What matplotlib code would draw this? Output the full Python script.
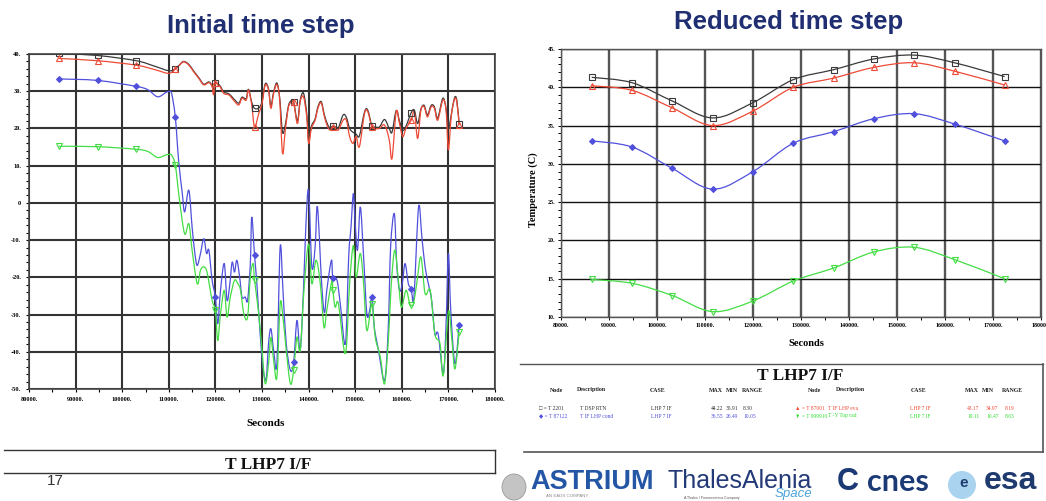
import numpy as np
import matplotlib
matplotlib.use("Agg")
import matplotlib.pyplot as plt
from matplotlib.path import Path
from matplotlib.patches import PathPatch, Ellipse
from matplotlib.lines import Line2D
from matplotlib.ticker import MultipleLocator, FuncFormatter

# ---------------- data: left chart (initial time step) ----------------
LEFT_RB_T = [86360, 94700, 103000, 107000, 110000, 111400, 112300, 113200, 114300, 115350,
             116400, 117500, 118600, 119300, 119600, 120000, 120900, 121800, 122900, 123900,
             125000, 125700, 126600, 127100, 127800, 128400, 129300, 130000, 130700, 131400,
             131900, 132500, 133200, 133800, 134400, 135000, 135700, 136400, 136800, 137600,
             138200, 138900, 139600, 140000, 140600, 141400, 142000, 142700, 143400, 144100,
             144600, 145200, 145800, 146400, 147400, 148100, 148800, 149500, 150200, 150900,
             152000, 152700, 153600, 154300, 155200, 156300, 157300, 157900, 158800, 159500,
             160200, 160900, 162000, 162700, 163400, 164100, 164800, 165500, 166300, 167000,
             167700, 168800, 169500, 170000, 170600, 171300, 171800, 172300]
LEFT_RED = [38.8, 38.2, 37.0, 35.8, 34.8, 36.0, 37.0, 37.9, 37.0, 35.2,
            33.5, 31.7, 32.3, 31.2, 29.0, 32.1, 31.4, 29.4, 29.0, 27.6,
            26.3, 28.1, 27.6, 30.3, 26.3, 20.4, 24.0, 26.7, 31.7, 30.3,
            25.4, 29.4, 31.8, 27.6, 13.3, 19.6, 25.8, 27.2, 27.0, 21.3,
            27.2, 28.5, 23.1, 16.0, 20.0, 22.2, 25.4, 26.9, 23.1, 20.4,
            19.6, 20.3, 20.0, 19.6, 22.2, 22.2, 17.8, 16.0, 17.8, 15.1,
            24.0, 24.5, 20.3, 20.0, 20.0, 20.9, 17.0, 11.9, 24.5, 21.3,
            17.8, 20.0, 22.2, 24.5, 17.3, 24.9, 25.8, 23.1, 25.8, 25.4,
            22.2, 27.6, 24.9, 14.2, 23.1, 27.8, 27.2, 20.9]
LEFT_BLACK = [40.2, 39.6, 38.2, 36.7, 35.5, 36.0, 37.1, 38.0, 37.2, 35.4,
              33.7, 31.9, 32.5, 31.4, 30.0, 32.2, 31.6, 29.8, 29.3, 28.0,
              26.8, 28.4, 28.0, 30.5, 27.0, 25.4, 25.5, 27.2, 32.0, 30.6,
              26.0, 29.8, 32.2, 28.2, 19.0, 21.0, 26.2, 27.6, 27.2, 22.0,
              27.6, 29.5, 24.0, 17.0, 20.6, 22.6, 25.8, 27.2, 23.6, 21.0,
              20.2, 20.6, 20.4, 20.2, 23.6, 23.0, 20.0, 19.0, 18.5, 18.0,
              24.4, 24.9, 20.6, 20.4, 20.4, 22.4, 20.0, 19.0, 24.8, 22.0,
              19.5, 20.6, 24.2, 24.9, 21.3, 25.2, 26.2, 23.6, 26.2, 25.8,
              22.8, 28.1, 25.3, 20.0, 23.6, 28.2, 27.6, 21.3]

LEFT_BLUE_T = [86360, 94700, 103000, 105500, 107600, 109400, 110000, 110600, 111400, 112100,
               112900, 113400, 114300, 115000, 115600, 116100, 116800, 117500, 118100, 118600,
               119300, 120000, 120500, 121100, 121900, 122500, 123100, 123600, 124100, 124600,
               125200, 125700, 126400, 126900, 127500, 127800, 128400, 128900, 129600, 130300,
               130900, 131400, 131900, 132500, 133200, 133900, 134500, 135200, 136100, 136800,
               137500, 138200, 138900, 139400, 140000, 140700, 141400, 141900, 142800, 143400,
               143900, 144900, 145200, 146100, 146800, 147900, 148600, 149100, 149600, 150000,
               150500, 151100, 151800, 152500, 153100, 153600, 154100, 155000, 156300, 157100,
               157600, 158400, 158900, 159500, 160100, 160700, 161400, 162000, 162600, 163600,
               164300, 165000, 165700, 166400, 167100, 167800, 168900, 169500, 170000, 170500,
               171400, 172300]
LEFT_BLUE = [33.3, 32.9, 31.3, 30.4, 28.5, 29.7, 29.9, 29.4, 23.0, 11.5,
             2.5, -2.4, 3.4, -6.5, -13.6, -16.8, -13.6, -9.6, -13.6, -12.7,
             -20.8, -25.3, -32.5, -23.5, -16.3, -26.2, -21.7, -15.9, -18.6, -15.4,
             -19.9, -25.3, -25.3, -26.2, -16.3, -3.8, -14.1, -21.7, -35.2, -45.0,
             -47.3, -37.8, -33.8, -39.6, -43.2, -11.8, -23.5, -37.8, -45.0, -42.8,
             -31.6, -39.6, -23.5, -6.5, 3.4, -17.2, -11.8, -1.1, -21.7, -29.5,
             -23.5, -15.4, -20.3, -20.8, -27.1, -37.8, -14.5, -6.5, 2.5, -5.6,
             -12.7, -1.1, -14.5, -29.8, -28.9, -25.3, -33.4, -39.6, -47.7, -33.4,
             -11.8, -2.9, -16.3, -23.5, -21.7, -16.3, -21.7, -23.0, -25.3, -1.1,
             -9.1, -17.2, -21.7, -26.2, -35.2, -35.2, -45.9, -32.5, -13.6, -28.9,
             -43.2, -32.9]

LEFT_GREEN_T = [86360, 94700, 103000, 105500, 107600, 109400, 110000, 110600, 111400, 112300,
                113400, 114300, 115000, 116100, 116800, 117500, 118200, 119300, 120000, 120500,
                121100, 121900, 122500, 123200, 124100, 124800, 125400, 126100, 126900, 127500,
                128100, 128400, 129300, 130000, 130700, 131400, 131900, 132500, 133200, 133900,
                134500, 135200, 136100, 136800, 137500, 138200, 139000, 140000, 140700, 141600,
                142500, 143300, 143900, 145000, 145200, 145700, 146400, 147900, 148800, 149600,
                150200, 151100, 151800, 152500, 153600, 154300, 155400, 156300, 157100, 157800,
                158500, 159200, 159900, 160900, 161700, 162000, 162500, 163200, 164100, 165000,
                166100, 167100, 168200, 168900, 170000, 170700, 171400, 172300]
LEFT_GREEN = [15.2, 15.1, 14.4, 13.8, 12.2, 12.9, 13.0, 12.8, 10.1, 0.7,
              -8.3, -5.6, -12.7, -21.7, -18.1, -17.2, -18.6, -26.2, -28.9, -37.0,
              -29.8, -23.5, -30.7, -25.3, -20.8, -21.7, -23.5, -29.8, -30.7, -19.9,
              -16.3, -20.8, -29.8, -39.6, -48.6, -43.2, -36.1, -42.3, -46.8, -27.1,
              -30.7, -39.6, -48.6, -44.8, -36.1, -39.6, -23.5, -11.0, -21.7, -15.4,
              -21.6, -33.4, -28.9, -20.8, -23.5, -28.0, -27.1, -40.5, -21.7, -11.4,
              -19.9, -13.6, -21.7, -34.3, -27.1, -36.1, -41.4, -48.6, -37.0, -20.8,
              -12.7, -19.9, -28.0, -23.5, -27.1, -27.5, -27.1, -21.7, -14.5, -24.4,
              -23.5, -35.2, -37.8, -46.4, -29.3, -36.1, -44.6, -34.7]

MARKER_TIMES = [86400, 94800, 103200, 111600, 120000, 128400, 136800, 145200, 153600, 162000, 172400]

# ---------------- data: right chart (reduced time step) ----------------
RIGHT_T = [86400, 94800, 103200, 111600, 120000, 128400, 136800, 145200, 153600, 162000, 172400]
RIGHT_BLACK = [41.3, 40.6, 38.2, 36.0, 38.0, 41.0, 42.3, 43.7, 44.2, 43.2, 41.4]
RIGHT_RED = [40.2, 39.6, 37.3, 35.0, 36.9, 40.0, 41.2, 42.6, 43.2, 42.1, 40.3]
RIGHT_BLUE = [33.0, 32.2, 29.4, 26.7, 29.0, 32.7, 34.2, 35.9, 36.55, 35.2, 33.0]
RIGHT_GREEN = [14.9, 14.4, 12.8, 10.7, 12.1, 14.7, 16.4, 18.5, 19.1, 17.5, 15.0]

# ---------------- table ----------------
TABLE_TITLE = "T LHP7 I/F"
TABLE_HEADERS = ["Node", "Description", "CASE", "MAX", "MIN", "RANGE"]
TABLE_ROWS_LEFT = [["\u25a1 = T 2201", "T DSP RTN", "LHP 7 IF", "44.22", "35.91", "8.30"],
                   ["\u25c6 = T 87122", "T IF LHP cond", "LHP 7 IF", "36.55", "26.49", "10.05"]]
TABLE_ROWS_RIGHT = [["\u25b2 = T 87001", "T IF LHP eva", "LHP 7 IF", "43.17", "34.97", "8.19"],
                    ["\u25bc = T 999910", "T -Y Top rad", "LHP 7 IF", "19.11", "10.47", "8.63"]]

C_BLACK = "#3a3a3a"
C_RED = "#ee4a36"
C_BLUE = "#5050dc"
C_GREEN = "#44dd44"
NAVY = "#202f72"

W, H = 1046, 501
fig = plt.figure(figsize=(W / 100, H / 100), dpi=100)
fig.patch.set_facecolor("white")


def fx(px):
    return px / W


def fy(py):
    return 1 - py / H


def smooth_path(x, y):
    pts = np.column_stack([np.asarray(x, float), np.asarray(y, float)])
    n = len(pts)
    verts = [pts[0]]
    codes = [Path.MOVETO]
    for i in range(n - 1):
        p0 = pts[i - 1] if i > 0 else pts[i]
        p1 = pts[i]
        p2 = pts[i + 1]
        p3 = pts[i + 2] if i + 2 < n else pts[i + 1]
        c1 = p1 + (p2 - p0) / 6.0
        c2 = p2 - (p3 - p1) / 6.0
        c1[0] = min(max(c1[0], p1[0]), p2[0])
        c2[0] = min(max(c2[0], p1[0]), p2[0])
        verts += [c1, c2, p2]
        codes += [Path.CURVE4] * 3
    return Path(verts, codes)


def draw_series(ax, x, y, color, marker, mfc, msize=4, lw=0.9):
    ax.add_patch(PathPatch(smooth_path(x, y), fill=False, edgecolor=color, lw=lw, zorder=3))
    xa = np.asarray(x, float)
    ya = np.asarray(y, float)
    idx = sorted(set(int(np.argmin(np.abs(xa - t))) for t in MARKER_TIMES))
    ax.plot(xa[idx], ya[idx], ls="none", marker=marker, ms=msize, mec=color,
            mfc=mfc, mew=0.8, zorder=4)


label_font = dict(family="Liberation Serif", weight="bold")


def fmt(v, pos):
    if abs(v) < 1e-9:
        return "0"
    return f"{int(round(v))}."


# ---------------- left axes ----------------
axL = fig.add_axes([fx(29), fy(389), (495 - 29) / W, (389 - 54) / H])
axL.set_xlim(80000, 180000)
axL.set_ylim(-50, 40)
axL.xaxis.set_major_locator(MultipleLocator(10000))
axL.xaxis.set_minor_locator(MultipleLocator(5000))
axL.yaxis.set_major_locator(MultipleLocator(10))
axL.yaxis.set_minor_locator(MultipleLocator(2))
axL.xaxis.set_major_formatter(FuncFormatter(fmt))
axL.yaxis.set_major_formatter(FuncFormatter(fmt))
axL.grid(True, which="major", color="#333333", lw=1.5)
axL.tick_params(which="both", direction="out", length=2.5, width=0.8, pad=3)
for lab in axL.get_xticklabels() + axL.get_yticklabels():
    lab.set_fontfamily("Liberation Serif")
    lab.set_fontweight("bold")
    lab.set_fontsize(4.6)
for s in axL.spines.values():
    s.set_color("#444444")
    s.set_linewidth(1.2)
axL.set_axisbelow(True)

draw_series(axL, LEFT_RB_T, LEFT_BLACK, C_BLACK, "s", "none")
draw_series(axL, LEFT_RB_T, LEFT_RED, C_RED, "^", "none")
draw_series(axL, LEFT_BLUE_T, LEFT_BLUE, C_BLUE, "D", C_BLUE, msize=3)
draw_series(axL, LEFT_GREEN_T, LEFT_GREEN, C_GREEN, "v", "none")

fig.text(fx(266), fy(423), "Seconds", ha="center", va="center", fontsize=8, **label_font)

# ---------------- right axes ----------------
axR = fig.add_axes([fx(561), fy(317), (1041 - 561) / W, (317 - 49) / H])
axR.set_xlim(80000, 180000)
axR.set_ylim(10, 45)
axR.xaxis.set_major_locator(MultipleLocator(10000))
axR.xaxis.set_minor_locator(MultipleLocator(5000))
axR.yaxis.set_major_locator(MultipleLocator(5))
axR.yaxis.set_minor_locator(MultipleLocator(1))
axR.xaxis.set_major_formatter(FuncFormatter(fmt))
axR.yaxis.set_major_formatter(FuncFormatter(fmt))
axR.xaxis.grid(True, which="major", color="#555555", lw=1.7)
axR.yaxis.grid(True, which="major", color="#111111", lw=1.0)
axR.tick_params(which="both", direction="out", length=2, width=0.7, pad=2)
for lab in axR.get_xticklabels() + axR.get_yticklabels():
    lab.set_fontfamily("Liberation Serif")
    lab.set_fontweight("bold")
    lab.set_fontsize(4.3)
for s in axR.spines.values():
    s.set_color("#555555")
    s.set_linewidth(1.0)
axR.set_axisbelow(True)

draw_series(axR, RIGHT_T, RIGHT_BLACK, C_BLACK, "s", "none")
draw_series(axR, RIGHT_T, RIGHT_RED, C_RED, "^", "none")
draw_series(axR, RIGHT_T, RIGHT_BLUE, C_BLUE, "D", C_BLUE, msize=3)
draw_series(axR, RIGHT_T, RIGHT_GREEN, C_GREEN, "v", "none")

fig.text(fx(806), fy(343), "Seconds", ha="center", va="center", fontsize=7.5, **label_font)
fig.text(fx(533), fy(190), "Temperature (C)", ha="center", va="center", rotation=90,
         fontsize=7.5, **label_font)

# ---------------- titles ----------------
fig.text(fx(261), fy(26), "Initial time step", ha="center", va="center", fontsize=18.5,
         family="Liberation Sans", weight="bold", color=NAVY)
fig.text(fx(789), fy(22), "Reduced time step", ha="center", va="center", fontsize=18.5,
         family="Liberation Sans", weight="bold", color=NAVY)

# ---------------- table box (right) ----------------
fig.add_artist(Line2D([fx(520), fx(1043)], [fy(364), fy(364)], color="#555555", lw=1.0))
fig.add_artist(Line2D([fx(1043), fx(1043)], [fy(364), fy(452)], color="#555555", lw=1.2))
fig.add_artist(Line2D([fx(524), fx(1043)], [fy(452), fy(452)], color="#555555", lw=1.2))
fig.text(fx(800), fy(376), TABLE_TITLE, ha="center", va="center", fontsize=12.5,
         family="Liberation Serif", weight="bold", color="#111111")

hdr_x_left = [556, 591, 658, 716, 732, 752]
hdr_x_right = [814, 850, 919, 972, 988, 1012]
for hx, h in zip(hdr_x_left, TABLE_HEADERS):
    fig.text(fx(hx), fy(390), h, ha="center", va="center", fontsize=4.2,
             family="Liberation Serif", weight="bold", color="#222222")
for hx, h in zip(hdr_x_right, TABLE_HEADERS):
    fig.text(fx(hx), fy(390), h, ha="center", va="center", fontsize=4.2,
             family="Liberation Serif", weight="bold", color="#222222")

row_x_left = [539, 580, 651, 711, 726, 743]
row_x_right = [795, 828, 910, 967, 986, 1005]
row_y = [408, 416]
left_colors = ["#333333", C_BLUE]
right_colors = [C_RED, "#33dd33"]
for r in range(2):
    for cx, t in zip(row_x_left, TABLE_ROWS_LEFT[r]):
        fig.text(fx(cx), fy(row_y[r]), t, ha="left", va="center", fontsize=4.0,
                 family=["Liberation Serif", "DejaVu Sans"], color=left_colors[r])
    for cx, t in zip(row_x_right, TABLE_ROWS_RIGHT[r]):
        fig.text(fx(cx), fy(row_y[r]), t, ha="left", va="center", fontsize=4.0,
                 family=["Liberation Serif", "DejaVu Sans"], color=right_colors[r])

# ---------------- left bottom box ----------------
fig.add_artist(Line2D([fx(4), fx(495)], [fy(450), fy(450)], color="#333333", lw=1.0))
fig.add_artist(Line2D([fx(495), fx(495)], [fy(450), fy(473)], color="#333333", lw=1.0))
fig.add_artist(Line2D([fx(4), fx(495)], [fy(473), fy(473)], color="#333333", lw=1.0))
fig.text(fx(268), fy(465), TABLE_TITLE, ha="center", va="center", fontsize=12.5,
         family="Liberation Serif", weight="bold", color="#111111")
fig.text(fx(55), fy(481), "17", ha="center", va="center", fontsize=11,
         family="Liberation Sans", color="#333333")

# ---------------- footer logos (as text) ----------------
fig.add_artist(Ellipse((fx(514), fy(487)), 24 / W, 26 / H, facecolor="#c4c4c4",
                       edgecolor="#9a9a9a", lw=0.6))
fig.text(fx(592), fy(482), "ASTRIUM", ha="center", va="center", fontsize=19.5,
         family="Liberation Sans", weight="bold", color="#2456a6")
fig.text(fx(546), fy(496), "AN EADS COMPANY", ha="left", va="center", fontsize=3.2,
         family="Liberation Sans", color="#8a8a8a")
fig.text(fx(740), fy(481), "ThalesAlenia", ha="center", va="center", fontsize=18,
         family="Liberation Sans", color="#243a78")
fig.text(fx(793), fy(494), "Space", ha="center", va="center", fontsize=9.5,
         family="Liberation Sans", style="italic", color="#4aa3da")
fig.text(fx(712), fy(497.5), "A Thales / Finmeccanica Company", ha="center", va="center",
         fontsize=2.6, family="Liberation Sans", color="#555555")
fig.text(fx(848), fy(482), "C", ha="center", va="center", fontsize=22,
         family="Liberation Sans", weight="bold", color="#1b3a75")
fig.text(fx(898), fy(482), "cnes", ha="center", va="center", fontsize=22,
         family="Lato", weight="bold", color="#1b3a75")
fig.add_artist(Ellipse((fx(962), fy(485)), 28 / W, 28 / H, facecolor="#a9d3ef",
                       edgecolor="none"))
fig.text(fx(964), fy(483), "e", ha="center", va="center", fontsize=11,
         family="Liberation Sans", weight="bold", color="#1e3a6e")
fig.text(fx(1010), fy(481), "esa", ha="center", va="center", fontsize=23,
         family="Liberation Sans", weight="bold", color="#1e3a6e")

fig.savefig("out.png", dpi=100, facecolor="white")
